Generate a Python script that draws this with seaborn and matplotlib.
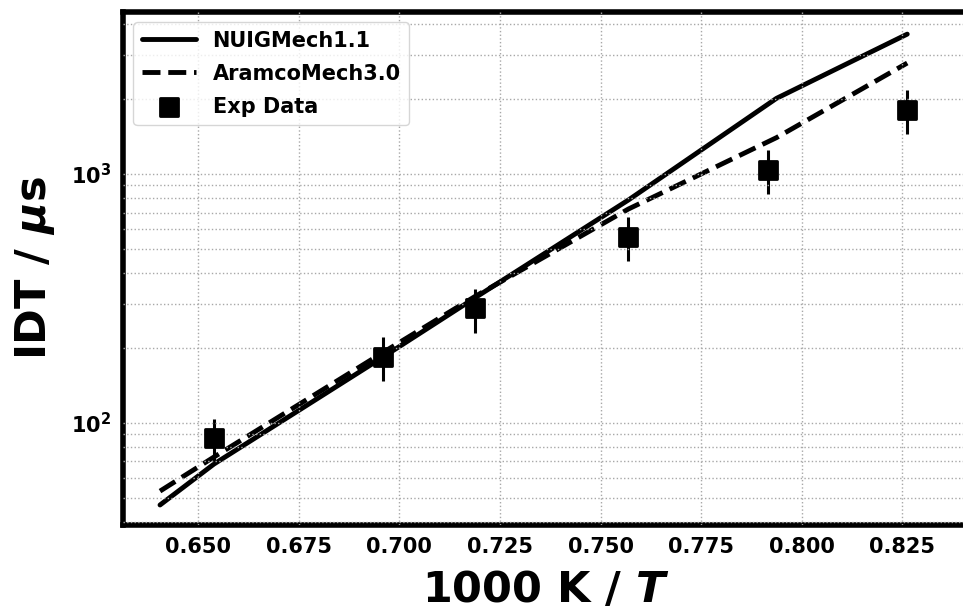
# IDT vs 1000/T -- NUIGMech1.1 / AramcoMech3.0 vs experiment
import math
import seaborn as sns
import matplotlib.pyplot as plt
from matplotlib.markers import MarkerStyle
from matplotlib.ticker import FixedLocator, FuncFormatter, LogLocator, NullFormatter

# simulation curves
sim_x = [0.6405, 0.6539, 0.6960, 0.7188, 0.7569, 0.7937, 0.8262]
nuig_idt = [46.7, 68.2, 184, 318, 786, 2014, 3650]
aramco_idt = [53.1, 72.8, 192, 322, 723, 1400, 2793]

# experimental points
exp_x = [0.6539, 0.6960, 0.7188, 0.7569, 0.7917, 0.8262]
exp_idt = [86.8, 184, 288, 559, 1038, 1808]
exp_err = [17, 37, 58, 112, 208, 362]

x_ticks = [0.650, 0.675, 0.700, 0.725, 0.750, 0.775, 0.800, 0.825]
y_ticks = [100, 1000]

sns.set_style("white")
plt.rcParams["font.family"] = ["DejaVu Sans"]
plt.rcParams["font.weight"] = "bold"
plt.rcParams["text.color"] = "k"
plt.rcParams["axes.labelcolor"] = "k"
plt.rcParams["xtick.color"] = "k"
plt.rcParams["ytick.color"] = "k"
plt.rcParams["mathtext.fontset"] = "custom"
plt.rcParams["mathtext.rm"] = "DejaVu Sans:bold"
plt.rcParams["mathtext.bf"] = "DejaVu Sans:bold"
plt.rcParams["mathtext.it"] = "DejaVu Sans:italic:bold"

fig = plt.figure(figsize=(9.63, 6.13), dpi=100)
# right spine sits just outside the picture, like the cropped original
ax = fig.add_axes([123 / 963, 1 - 525 / 613, 845 / 963, 513 / 613])

sns.lineplot(x=sim_x, y=nuig_idt, color="k", lw=3.5, label="NUIGMech1.1", ax=ax)
sns.lineplot(x=sim_x, y=aramco_idt, color="k", lw=3.5, ls="--", label="AramcoMech3.0", ax=ax)
ax.errorbar(exp_x, exp_idt, yerr=exp_err, fmt="none", ecolor="k", elinewidth=2.2, capsize=0)
sns.scatterplot(x=exp_x, y=exp_idt, marker=MarkerStyle("s", joinstyle="round"), s=150,
                color="k", edgecolor="k", linewidth=2, label="Exp Data", ax=ax, zorder=3)

ax.set_yscale("log")
ax.set_xlim(0.6313, 0.8413)
ax.set_ylim(38.8, 4480)

ax.xaxis.set_major_locator(FixedLocator(x_ticks))
ax.xaxis.set_major_formatter(FuncFormatter(lambda v, p: f"{v:.3f}"))
ax.yaxis.set_major_locator(FixedLocator(y_ticks))
ax.yaxis.set_major_formatter(FuncFormatter(lambda v, p: r"$\mathbf{10^{%d}}$" % round(math.log10(v))))
ax.yaxis.set_minor_locator(LogLocator(base=10, subs=range(2, 10)))
ax.yaxis.set_minor_formatter(NullFormatter())

ax.tick_params(axis="both", which="major", direction="out", length=5, width=3.6, labelsize=15)
ax.tick_params(axis="y", which="minor", length=0)

ax.set_axisbelow(False)
ax.grid(True, which="major", axis="x", ls=":", color="#a8a8a8", lw=1.0)
ax.grid(True, which="both", axis="y", ls=":", color="#a8a8a8", lw=1.0)

for sp in ax.spines.values():
    sp.set_linewidth(4)
    sp.set_color("k")

ax.set_xlabel(r"1000 K / $T$", fontsize=31, fontweight="bold", labelpad=9)
ax.set_ylabel(r"IDT / $\mu$s", fontsize=31, fontweight="bold", labelpad=10)

ax.legend(loc="upper left", handlelength=2.6, labelspacing=0.62, frameon=True,
          prop={"weight": "bold", "size": 15})

fig.savefig("out.png", dpi=100)
